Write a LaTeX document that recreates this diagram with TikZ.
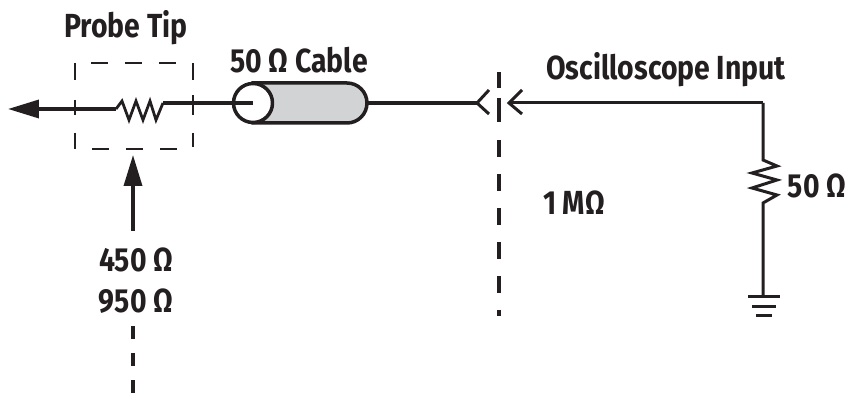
\documentclass[tikz,border=0pt]{standalone}
\usepackage{fontspec}
\setmainfont[FakeStretch=0.85]{Fira Sans}
\usetikzlibrary{arrows.meta}
\definecolor{inkdark}{HTML}{231F20}
\definecolor{cablegray}{HTML}{D1D3D4}
\tikzset{
    wire/.style={line width = 0.7mm, draw=inkdark},
    thinwire/.style={line width = 0.6mm, draw=inkdark},
    reswire/.style={line width = 0.55mm, draw=inkdark},
    probebox/.style={line width = 0.3mm, draw=inkdark},
    bigarrow/.style={-{Triangle[length=0.62cm,width=0.36cm]}},
    caption/.style={inner sep=0pt, text=inkdark, font=\fontsize{19}{21}\selectfont\bfseries}
}
\begin{document}
\begin{tikzpicture}[x=0.02cm,y=-0.02cm]
    \useasboundingbox (0,0) rectangle (861,394);
    % labels
    \node[caption] (probetip) at (126,28) {Probe Tip};
    \node[caption] (cablelabel) at (299,60) {50 Ω Cable};
    \node[caption] (scopelabel) at (666,70) {Oscilloscope Input};
    \node[caption] (megohm) at (574,203) {1 MΩ};
    \node[caption] (termohm) at (817,186) {50 Ω};
    \node[caption] (lowohm) at (136,260) {450 Ω};
    \node[caption] (highohm) at (136,301) {950 Ω};
    % probe tip box
    \coordinate (boxa) at (75,63);
    \coordinate (boxb) at (193,63);
    \coordinate (boxc) at (193,149);
    \coordinate (boxd) at (75,149);
    \draw[probebox, dash pattern=on 0.34cm off 0.34cm] (91,63) -- (177,63);
    \draw[probebox, dash pattern=on 0.34cm off 0.34cm] (92,149) -- (177,149);
    \draw[probebox] (boxa) -- (75,80);
    \draw[probebox] (75,100) -- (75,115);
    \draw[probebox] (75,133) -- (boxd);
    \draw[probebox] (boxb) -- (193,80);
    \draw[probebox] (193,95) -- (193,115);
    \draw[probebox] (193,133) -- (193,147);
    % wire to the tip, resistor, cable
    \coordinate (tipend) at (8,109);
    \coordinate (reslft) at (116,109);
    \coordinate (resrgt) at (163,103);
    \coordinate (cablel) at (253,103);
    \coordinate (cabler) at (367,103);
    \coordinate (plugl) at (477,103);
    \coordinate (plugr) at (509,103);
    \coordinate (corner) at (763,103);
    \draw[wire, bigarrow] (reslft) -- (tipend);
    \draw[reswire] (reslft) -- (122,101) -- (129,120) -- (136,101) -- (143,120) -- (150,101) -- (156,120) -- (resrgt);
    \draw[wire] (resrgt) -- (cablel);
    \draw[wire, fill=cablegray] (253,83) -- (347,83) arc (-90:90:20) -- (253,123) -- cycle;
    \draw[wire, fill=white] (272.5,103) arc (0:360:19.5);
    \draw[wire] (233,103) -- (cablel);
    \draw[wire] (cabler) -- (plugl);
    % connector
    \draw[thinwire] (489,90) -- (plugl) -- (489,114);
    \draw[thinwire] (522,90) -- (plugr) -- (522,114);
    \draw[thinwire] (plugr) -- (corner);
    % input dashes
    \draw[wire] (499,72) -- (499,88);
    \draw[wire] (499,98) -- (499,122);
    \draw[wire, dash pattern=on 0.34cm off 0.34cm] (499,140) -- (499,316);
    % termination
    \coordinate (termtop) at (763,160);
    \coordinate (termbot) at (763,203);
    \coordinate (gnd) at (763,297);
    \draw[thinwire] (corner) -- (termtop) -- (777,166) -- (752,173) -- (777,180) -- (752,188) -- (777,195) -- (termbot) -- (gnd);
    \draw[thinwire] (748,297) -- (780,297);
    \draw[thinwire] (752,307) -- (776,307);
    \draw[thinwire] (756,316) -- (772,316);
    % lower arrow
    \coordinate (lowtip) at (133,155);
    \coordinate (lowtail) at (133,231);
    \draw[wire, bigarrow] (lowtail) -- (lowtip);
    \draw[wire, dash pattern=on 0.27cm off 0.27cm] (133,326) -- (133,393);
\end{tikzpicture}
\end{document}
